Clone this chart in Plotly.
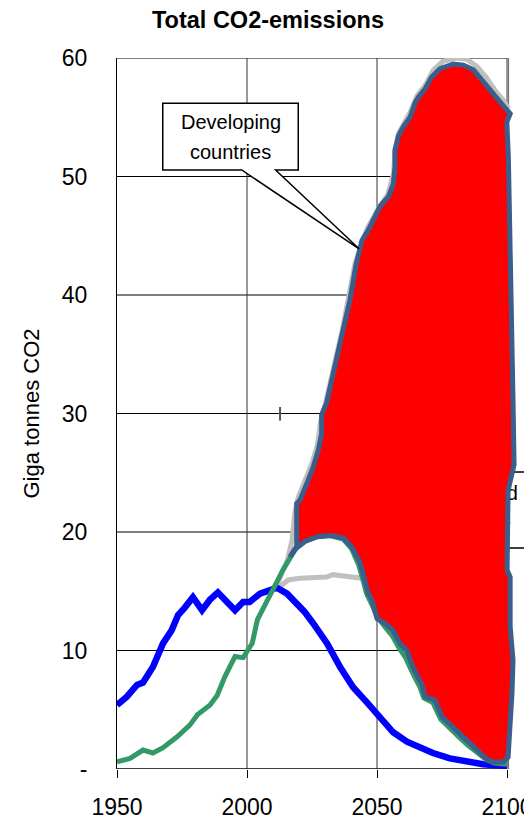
import plotly.graph_objects as go

FONT = "Liberation Sans, Arial, sans-serif"

# ---------------- data ----------------
x_ticks = [1950, 2000, 2050, 2100]
x_ticklabels = ["1950", "2000", "2050", "2100"]
y_ticks = [0, 10, 20, 30, 40, 50, 60]
y_ticklabels = ["-", "10", "20", "30", "40", "50", "60"]

# Developed countries (blue)
blue_years = [1950, 1953.8, 1957.7, 1960, 1963.8, 1967.7, 1971, 1973.5, 1976, 1979.2,
              1982.7, 1985.8, 1988.8, 1992.3, 1995.4, 1998.5, 2001, 2005, 2008, 2011.5,
              2015.4, 2019, 2022, 2025.4, 2030.8, 2035.8, 2040.8, 2046.2, 2051.2, 2056.2,
              2061.5, 2066.5, 2071.5, 2078, 2084.6, 2090.8, 2100]
blue_vals = [5.4, 6.1, 7.1, 7.3, 8.6, 10.6, 11.7, 13.0, 13.6, 14.5,
             13.4, 14.3, 14.9, 14.1, 13.4, 14.1, 14.1, 14.8, 15.1, 15.3,
             14.8, 14.0, 13.3, 12.3, 10.6, 8.6, 6.9, 5.6, 4.3, 3.1,
             2.3, 1.8, 1.35, 0.9, 0.6, 0.4, 0.25]

# Developing countries, lower scenario (green)
green_years = [1950, 1955, 1960, 1963.8, 1967.7, 1973, 1978, 1981, 1985.8, 1988.5,
               1991.5, 1995.4, 1998.5, 2002, 2004, 2007, 2010.8, 2013.8, 2016.5, 2019,
               2022, 2027, 2032, 2037, 2040.2, 2043, 2044.8, 2046, 2048, 2050,
               2053, 2056, 2058.5, 2061, 2063.5, 2066.5, 2068, 2071.5, 2074.5, 2078,
               2082, 2085, 2089, 2092, 2095, 2100]
green_vals = [0.6, 0.9, 1.6, 1.35, 1.8, 2.7, 3.7, 4.6, 5.4, 6.2,
              7.8, 9.5, 9.4, 10.6, 12.6, 13.8, 15.5, 16.8, 17.9, 18.7,
              19.2, 19.6, 19.7, 19.4, 18.6, 17.2, 15.8, 14.8, 13.9, 12.9,
              12.0, 11.2, 10.2, 9.4, 8.2, 6.9, 6.0, 5.6, 4.2, 3.4,
              2.6, 2.0, 1.3, 0.8, 0.5, 0.4]

# Grey: flat branch
grey_flat_years = [2012.7, 2015.8, 2020.4, 2025.4, 2030.6, 2033, 2039.6, 2043.5, 2048]
grey_flat_vals = [15.4, 15.95, 16.1, 16.2, 16.2, 16.4, 16.2, 16.1, 16.0]

# Grey: upper branch
grey_up_years = [2011.5, 2013.5, 2015.5, 2017.3, 2018.5, 2019.8, 2022.4, 2025.0, 2027.0, 2028.3,
                 2030.2, 2036.6, 2041.6, 2046.2, 2050.2, 2054.2, 2056.4, 2056.9, 2058.4, 2062.7,
                 2065.3, 2068.8, 2071.7, 2075.2, 2080.2, 2084.5, 2088.4, 2091.9, 2095.3, 2098.7, 2100.6]
grey_up_vals = [15.5, 16.5, 17.6, 19.3, 21.8, 23.0, 24.4, 25.8, 27.3, 29.3,
                30.9, 37.0, 42.7, 45.6, 47.2, 48.5, 50.3, 52.3, 53.7, 55.4,
                56.8, 57.8, 59.0, 59.7, 60.0, 59.9, 59.3, 58.4, 57.3, 56.4, 55.7]

# Developing countries region (red area outline, closed)
red_years = [2016.5, 2019.1, 2019.1, 2020.4, 2023, 2025.5, 2027.4, 2028.7, 2028.7, 2030.6,
             2036.9, 2039.6, 2041.9, 2043.1, 2044.2, 2046.7, 2049.9, 2051.2, 2054.4, 2056.3,
             2056.9, 2056.9, 2058.2, 2060.1, 2062.7, 2064.6, 2065.9, 2068.5, 2071.0, 2074.2,
             2079.4, 2083.2, 2087.1, 2090.9, 2094.1, 2097.3, 2101.2, 2099.9, 2100.5, 2101.2,
             2101.9, 2102.3, 2102.7, 2100.4, 2100.0, 2101.2, 2101.2, 2102.3, 2101.9, 2101.2,
             2100.4, 2098.5, 2094.6, 2092.3, 2088.5, 2084.6, 2082, 2078, 2075, 2072.3,
             2068.5, 2067.3, 2063.8, 2061.5, 2058.8, 2056.2, 2053, 2050, 2048, 2046.5,
             2045.4, 2043.5, 2040.4, 2037, 2032, 2027, 2022.3, 2018.8, 2016.5]
red_vals = [17.9, 18.8, 22.4, 22.7, 24.1, 25.5, 26.9, 28.3, 29.9, 30.9,
            37.0, 39.6, 42.5, 43.8, 44.6, 45.5, 46.9, 47.5, 48.3, 49.4,
            50.8, 52.2, 53.4, 54.2, 55.0, 56.2, 56.7, 57.4, 58.4, 59.1,
            59.5, 59.4, 59.0, 58.0, 57.0, 56.3, 55.3, 54.6, 51.7, 44.6,
            39.6, 31.1, 25.7, 23.5, 16.8, 16.2, 12.0, 9.2, 6.4, 3.5,
            1.0, 0.6, 0.6, 0.8, 1.6, 2.4, 2.9, 3.7, 4.4, 5.8,
            6.1, 7.1, 8.6, 10.0, 10.6, 11.7, 12.3, 12.7, 14.3, 14.9,
            15.9, 17.4, 18.7, 19.5, 19.7, 19.6, 19.2, 18.6, 17.9]

# ---------------- figure ----------------
# the page body adds an 8px offset, so the figure is 8px smaller than the window
OFF = 8
W, H = 532 - OFF, 819 - OFF

fig = go.Figure()

# text of the right callout, partly hidden behind the red area
fig.add_trace(go.Scatter(x=[2085.8], y=[22.0], mode="text", text=["Developed<br>countries"],
                         textfont=dict(family=FONT, size=20, color="black"),
                         hoverinfo="skip", showlegend=False))

fig.add_trace(go.Scatter(x=grey_flat_years, y=grey_flat_vals, mode="lines",
                         line=dict(color="#C0C0C0", width=5), showlegend=False))
fig.add_trace(go.Scatter(x=grey_up_years, y=grey_up_vals, mode="lines",
                         line=dict(color="#C0C0C0", width=5), showlegend=False))
fig.add_trace(go.Scatter(x=blue_years, y=blue_vals, mode="lines",
                         line=dict(color="#0000FF", width=6.5), showlegend=False))
fig.add_trace(go.Scatter(x=green_years, y=green_vals, mode="lines",
                         line=dict(color="#339966", width=5), showlegend=False))
fig.add_trace(go.Scatter(x=red_years, y=red_vals, mode="lines", fill="toself",
                         fillcolor="#FF0000", line=dict(color="#3B5F8C", width=5),
                         showlegend=False))

shapes = []
# grid lines (stop at 2100)
for yv in [10, 20, 30, 40, 50, 60]:
    shapes.append(dict(type="line", xref="x", yref="y", x0=1950, x1=2100, y0=yv, y1=yv,
                       line=dict(color="black", width=1), layer="below"))
for xv in [2000, 2050, 2100]:
    shapes.append(dict(type="line", xref="x", yref="y", x0=xv, x1=xv, y0=0, y1=60,
                       line=dict(color="#333333", width=1), layer="below"))
shapes.append(dict(type="line", xref="x", yref="y", x0=2100.6, x1=2100.6, y0=0, y1=60,
                   line=dict(color="#666666", width=1), layer="below"))
shapes.append(dict(type="line", xref="x", yref="y", x0=1950, x1=2100, y0=0, y1=0,
                   line=dict(color="black", width=1.5), layer="below"))
# right callout box (mostly hidden)
shapes.append(dict(type="rect", xref="x", yref="y", x0=2062, x1=2125, y0=18.65, y1=25.06,
                   fillcolor="white", line=dict(color="black", width=1.5), layer="below"))
# small stray tick mark
shapes.append(dict(type="line", xref="x", yref="y", x0=2012.7, x1=2012.7, y0=29.4, y1=30.55,
                   line=dict(color="#555555", width=2), layer="above"))
# left callout with pointer
bx0, bx1, byt, byb = 1967.6, 2019.7, 56.18, 50.55
p1, p2, tipx, tipy = 1997.96, 2011.0, 2043.1, 43.9
path = (f"M {bx0},{byt} L {bx1},{byt} L {bx1},{byb} L {p2},{byb} L {tipx},{tipy} "
        f"L {p1},{byb} L {bx0},{byb} Z")
shapes.append(dict(type="path", xref="x", yref="y", path=path, fillcolor="white",
                   line=dict(color="black", width=1.5), layer="above"))

annotations = [
    dict(x=1993.65, y=(769 - 122) / 11.85, xref="x", yref="y", text="Developing",
         showarrow=False, font=dict(family=FONT, size=20, color="black")),
    dict(x=1993.65, y=(769 - 151.5) / 11.85, xref="x", yref="y", text="countries",
         showarrow=False, font=dict(family=FONT, size=20, color="black")),
    dict(x=(31 - 117) / 415, y=0.5, xref="paper", yref="paper", text="Giga tonnes CO2",
         textangle=-90, showarrow=False, xanchor="center", yanchor="middle",
         font=dict(family=FONT, size=22, color="black")),
]

fig.update_layout(
    width=W, height=H,
    margin=dict(l=117 - OFF, r=0, t=58 - OFF, b=50, autoexpand=False),
    paper_bgcolor="white", plot_bgcolor="white",
    title=dict(text="<b>Total CO2-emissions</b>", x=(268 - OFF) / W, xref="container",
               xanchor="center", y=1 - (19.5 - OFF) / H, yref="container", yanchor="middle",
               automargin=False, font=dict(family=FONT, size=23.5, color="black")),
    shapes=shapes, annotations=annotations,
    xaxis=dict(range=[1950, 2109.6], tickvals=x_ticks, ticktext=x_ticklabels,
               showgrid=False, zeroline=False, showline=False, automargin=False,
               ticks="outside", ticklen=8, tickcolor="black", tickwidth=1,
               ticklabelstandoff=9, ticklabeloverflow="allow",
               tickfont=dict(family=FONT, size=23, color="black")),
    yaxis=dict(range=[0, 60], tickvals=y_ticks, ticktext=y_ticklabels, automargin=False,
               showgrid=False, zeroline=False, showline=True, linecolor="black", linewidth=1,
               ticks="", ticklabelstandoff=24,
               tickfont=dict(family=FONT, size=23, color="black")),
)

fig.write_html("out.html")
